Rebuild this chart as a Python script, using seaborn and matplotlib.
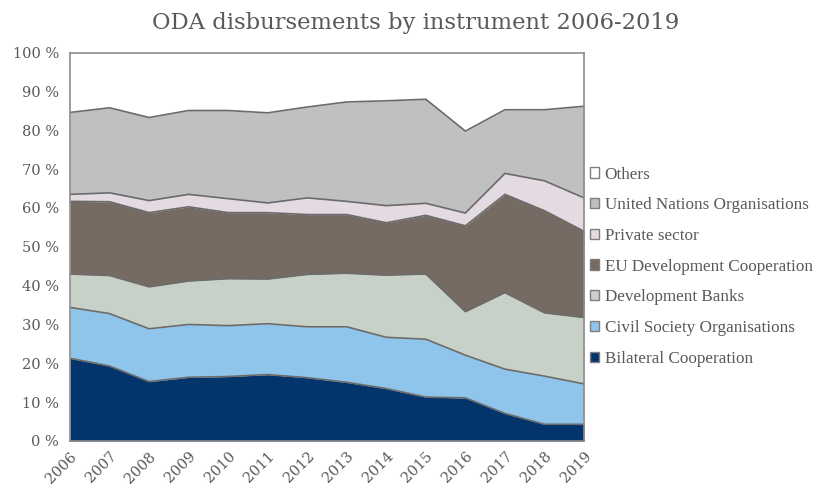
import seaborn as sns
from matplotlib import pyplot as plt
from matplotlib.patches import Patch
import pandas as pd

years = list(range(2006, 2020))

# shares in % per instrument
bilateral = [21.3, 19.3, 15.3, 16.4, 16.6, 17.1, 16.3, 15.1, 13.5, 11.3, 11.1, 7.1, 4.3, 4.3]
civil_society = [13.1, 13.5, 13.6, 13.6, 13.1, 13.1, 13.1, 14.3, 13.2, 14.9, 11.0, 11.4, 12.4, 10.4]
dev_banks = [8.6, 9.8, 10.8, 11.2, 12.1, 11.5, 13.5, 13.8, 16.0, 16.8, 11.2, 19.7, 16.3, 17.1]
eu_dev = [18.7, 19.0, 19.1, 19.1, 17.0, 17.1, 15.4, 15.1, 13.5, 15.1, 22.1, 25.3, 26.3, 22.2]
private_sector = [1.8, 2.3, 3.1, 3.2, 3.6, 2.5, 4.3, 3.4, 4.4, 3.1, 3.3, 5.4, 7.7, 8.6]
un_orgs = [21.1, 21.9, 21.4, 21.6, 22.7, 23.2, 23.4, 25.6, 27.0, 26.8, 21.1, 16.4, 18.3, 23.6]
others = [15.4, 14.2, 16.7, 14.9, 14.9, 15.5, 14.0, 12.7, 12.4, 12.0, 20.2, 14.7, 14.7, 13.8]

labels = ["Bilateral Cooperation", "Civil Society Organisations", "Development Banks",
          "EU Development Cooperation", "Private sector", "United Nations Organisations", "Others"]
colors = ["#03356c", "#8fc5ea", "#c8d1c8", "#756b62", "#e3dae2", "#c0c0c0", "#ffffff"]

df = pd.DataFrame({"Year": years, labels[0]: bilateral, labels[1]: civil_society,
                   labels[2]: dev_banks, labels[3]: eu_dev, labels[4]: private_sector,
                   labels[5]: un_orgs, labels[6]: others}).set_index("Year")
cum = df.cumsum(axis=1)

sns.set_style("white")
plt.rcParams["font.family"] = ["DejaVu Serif"]
text_col = "#595959"

fig = plt.figure(figsize=(8.2, 4.92), dpi=100)
ax = fig.add_axes([0.0854, 0.1037, 0.6268, 0.7893])

prev = pd.Series(0.0, index=df.index)
for lab, col in zip(labels, colors):
    ax.fill_between(df.index, prev, cum[lab], color=col, linewidth=0)
    prev = cum[lab]

# boundary lines between layers
lines = cum[labels[:-1]].reset_index().melt(id_vars="Year", var_name="layer", value_name="top")
sns.lineplot(data=lines, x="Year", y="top", units="layer", estimator=None,
             color="#6b6b6b", linewidth=1.2, ax=ax, legend=False)

ax.set_xlim(2006, 2019)
ax.set_ylim(0, 100)
ax.set_xticks(years)
ax.set_xticklabels([str(y) for y in years], rotation=45, ha="right", rotation_mode="anchor",
                   fontsize=10.5, color=text_col)
ax.set_yticks(range(0, 101, 10))
ax.set_yticklabels([f"{v} %" for v in range(0, 101, 10)], fontsize=10.5, color=text_col)
ax.tick_params(axis="x", length=4, color="#bfbfbf", pad=2)
ax.tick_params(axis="y", length=0, pad=8)
ax.set_xlabel("")
ax.set_ylabel("")
for s in ax.spines.values():
    s.set_color("#8c8c8c")
    s.set_linewidth(1.2)

handles = [Patch(facecolor=c, edgecolor="#7f7f7f", label=l) for l, c in zip(labels, colors)][::-1]
ax.legend(handles=handles, loc="center left", bbox_to_anchor=(1.0, 0.449), frameon=False,
          prop={"family": "Liberation Serif", "size": 12.3}, labelcolor=text_col,
          handlelength=0.55, handleheight=0.55, handletextpad=0.3, labelspacing=0.86,
          borderaxespad=0.15, borderpad=0.2)

fig.suptitle("ODA disbursements by instrument 2006-2019", x=0.507, y=0.975,
             fontsize=16.3, color=text_col)

fig.savefig("out.png", dpi=100)
